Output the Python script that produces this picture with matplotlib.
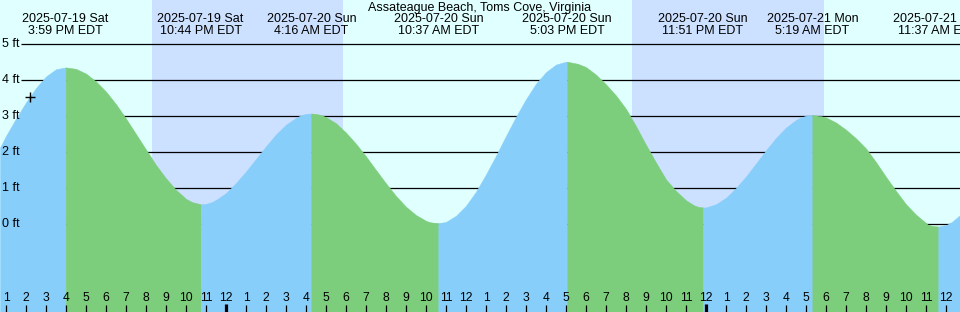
import numpy as np
import matplotlib.pyplot as plt

# tide chart, Assateague Beach, Toms Cove, Virginia
# time = hours since 2025-07-19 00:00 EDT, height in ft

title = "Assateague Beach, Toms Cove, Virginia"

# high / low tide events
event_t = [15.983, 22.733, 28.267, 34.617, 41.05, 47.85, 53.317, 59.617]
event_h = [4.35, 0.55, 3.07, 0.02, 4.51, 0.46, 3.03, -0.07]
event_date = ["2025-07-19 Sat", "2025-07-19 Sat", "2025-07-20 Sun", "2025-07-20 Sun",
              "2025-07-20 Sun", "2025-07-20 Sun", "2025-07-21 Mon", "2025-07-21 Mon"]
event_time = ["3:59 PM EDT", "10:44 PM EDT", "4:16 AM EDT", "10:37 AM EDT",
              "5:03 PM EDT", "11:51 PM EDT", "5:19 AM EDT", "11:37 AM EDT"]

# tide curve (half hours + the extremes)
tide_t = [12.7, 13, 13.5, 14, 14.5, 15, 15.5, 15.983, 16, 16.5, 17, 17.5, 18, 18.5, 19, 19.5,
          20, 20.5, 21, 21.5, 22, 22.3, 22.733,
          23, 23.3, 23.5, 24, 24.5, 25, 25.5, 26, 26.5, 27, 27.5, 27.7, 28, 28.267,
          28.5, 28.8, 29, 29.5, 30, 30.5, 31, 31.5, 32, 32.5, 33, 33.5, 34, 34.2, 34.617,
          35, 35.5, 36, 36.5, 37, 37.5, 38, 38.5, 39, 39.5, 40, 40.5, 41, 41.05,
          41.6, 42, 42.5, 43, 43.5, 44, 44.5, 45, 45.5, 46, 46.5, 47, 47.4, 47.6, 47.85,
          48, 48.5, 49, 49.5, 50, 50.5, 51, 51.5, 52, 52.5, 52.7, 53, 53.317,
          53.8, 54, 54.5, 55, 55.5, 56, 56.5, 57, 57.5, 58, 58.5, 59, 59.1, 59.3, 59.617,
          60, 60.3, 60.7]
tide_h = [2.12, 2.45, 2.93, 3.38, 3.78, 4.10, 4.30, 4.35, 4.35, 4.31, 4.18, 3.96, 3.68, 3.33, 2.93, 2.50,
          2.07, 1.64, 1.27, 0.95, 0.70, 0.61, 0.55,
          0.56, 0.61, 0.67, 0.86, 1.14, 1.46, 1.81, 2.16, 2.49, 2.76, 2.95, 3.01, 3.06, 3.07,
          3.06, 3.02, 2.97, 2.80, 2.54, 2.23, 1.88, 1.50, 1.13, 0.78, 0.48, 0.25, 0.09, 0.05, 0.02,
          0.06, 0.23, 0.51, 0.90, 1.38, 1.90, 2.45, 2.98, 3.47, 3.90, 4.22, 4.43, 4.51, 4.51,
          4.45, 4.36, 4.15, 3.88, 3.57, 3.20, 2.72, 2.20, 1.71, 1.24, 0.92, 0.66, 0.52, 0.48, 0.46,
          0.46, 0.55, 0.73, 1.00, 1.32, 1.68, 2.05, 2.39, 2.68, 2.89, 2.95, 3.01, 3.03,
          2.99, 2.96, 2.82, 2.62, 2.38, 2.10, 1.72, 1.31, 0.92, 0.55, 0.26, 0.03, -0.02, -0.05, -0.07,
          -0.03, 0.06, 0.25]

# sunset / sunrise
night = [(20.3, 29.85), (44.3, 53.9)]

levels = [0, 1, 2, 3, 4, 5]
hours = list(range(13, 61))
now_t, now_h = 14.2, 3.53

plt.rcParams['font.family'] = ['Liberation Sans', 'DejaVu Sans']

fig = plt.figure(figsize=(9.6, 3.12), dpi=100)
ax = fig.add_axes([0, 0, 1, 1])
t0, t1 = 12.7, 60.7
ybot, ytop = -88 / 36, 224 / 36
ax.set_xlim(t0, t1)
ax.set_ylim(ybot, ytop)
ax.axis("off")

ax.axvspan(t0, t1, color="#e0ffff", lw=0, zorder=0)
for a, b in night:
    ax.axvspan(a, b, color="#cce0ff", lw=0, zorder=0.5)

# ft lines (under the tide)
ax.hlines(levels, t0 + 21 / 20, t1, color="black", lw=0.9, zorder=1)
for lv in levels:
    ax.text(2 / 960, lv, "%d ft" % lv, transform=ax.get_yaxis_transform(),
            ha="left", va="center", fontsize=9, zorder=5)

T = np.array(tide_t)
H = np.array(tide_h)
bounds = [t0] + event_t + [t1]
for a, b in zip(bounds[:-1], bounds[1:]):
    m = (T >= a) & (T <= b)
    col = "#87cefa" if H[m][-1] > H[m][0] else "#7ccd7c"
    ax.fill_between(T[m], H[m], ybot, facecolor=col, edgecolor=col, lw=0.3, zorder=2)

ax.plot(now_t, now_h, "+", color="black", ms=6.5, mew=1, zorder=4)

# top labels
ax.text(0.5, 1 - 7.5 / 312, title, transform=ax.transAxes, ha="center", va="center", fontsize=9)
tr = ax.get_xaxis_transform()
for t, d, s in zip(event_t, event_date, event_time):
    ax.text(t, 1 - 19.5 / 312, d, transform=tr, ha="center", va="center", fontsize=9)
    ax.text(t, 1 - 31.5 / 312, s, transform=tr, ha="center", va="center", fontsize=9)

# hour ticks along the bottom
for h in hours:
    lab = str(h % 12 if h % 12 else 12)
    ax.text(h, 14.3 / 312, lab, transform=tr, ha="center", va="center", fontsize=8.7, zorder=5)
    if h % 24 == 0:
        ax.vlines(h, 0, 8 / 312, transform=tr, color="black", lw=2.3, zorder=5)
    else:
        ax.vlines(h, 0, 7 / 312, transform=tr, color="black", lw=0.9, zorder=5)

plt.savefig("out.png", dpi=100)
